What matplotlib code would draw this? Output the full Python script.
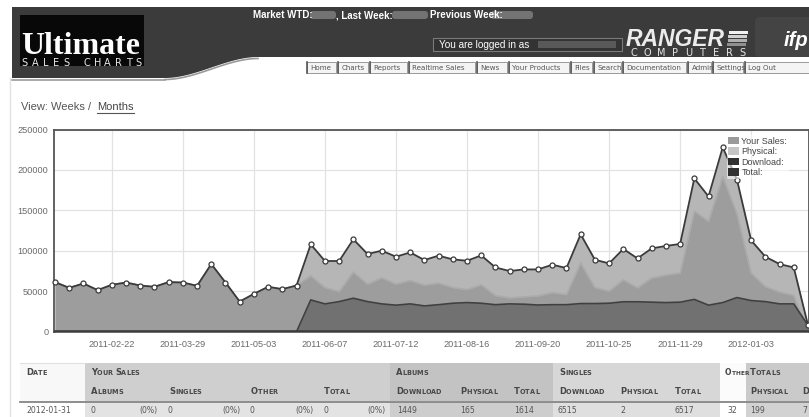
import numpy as np
import pandas as pd
import matplotlib
matplotlib.use("Agg")
import matplotlib.pyplot as plt
import matplotlib.dates as mdates
from matplotlib.patches import Rectangle, Polygon, Patch, FancyBboxPatch

# weekly sales (2011-01-25 .. 2012-01-31)
weeks = pd.date_range("2011-01-25", "2012-01-31", freq="7D")

total = [61300, 54200, 59600, 51400, 58000, 60800, 57100, 55500, 61300, 60800,
         56700, 83600, 60800, 37200, 46800, 55500, 52600, 57100, 108000, 87400,
         87400, 114200, 96000, 100200, 92700, 98000, 88600, 94000, 89400, 87700,
         94300, 79400, 75000, 77000, 77000, 82800, 78700, 120400, 89000, 84400,
         102300, 90600, 103000, 106000, 108500, 189500, 167200, 228000, 188000, 112900,
         92700, 83600, 79400, 8163]
physical = [61300, 54200, 59600, 51400, 58000, 60800, 57100, 55500, 61300, 60800,
            56700, 83600, 60800, 37200, 46800, 55500, 52600, 57100, 69100, 54600,
            49600, 73700, 58800, 66600, 58800, 63300, 57600, 60100, 54600, 52100,
            58000, 44700, 41800, 43000, 44300, 48400, 46000, 84900, 54600, 50100,
            64200, 54200, 66300, 70000, 72500, 149000, 136500, 192000, 145800, 72500,
            55800, 48900, 45000, 199]
download = [0, 0, 0, 0, 0, 0, 0, 0, 0, 0,
            0, 0, 0, 0, 0, 0, 0, 0, 39300, 34400,
            37200, 41400, 37200, 34400, 32800, 34400, 31900, 33400, 35200, 36000,
            35200, 33400, 34400, 34000, 33000, 33400, 33400, 34800, 34800, 35200,
            37000, 37000, 36500, 36000, 36500, 39900, 32800, 36000, 42200, 38500,
            37200, 34400, 34400, 7964]
your_sales = [0] * len(weeks)

tick_dates = ["2011-02-22", "2011-03-29", "2011-05-03", "2011-06-07", "2011-07-12",
              "2011-08-16", "2011-09-20", "2011-10-25", "2011-11-29", "2012-01-03"]
y_ticks = [0, 50000, 100000, 150000, 200000, 250000]

legend_labels = ["Your Sales:", "Physical:", "Download:", "Total:"]

menu_items = ["Home", "Charts", "Reports", "Realtime Sales", "News", "Your Products",
              "Files", "Search", "Documentation", "Admin", "Settings", "Log Out"]
menu_x = [307, 338, 370, 409, 477, 509, 571, 594, 623, 688, 713, 745, 812]

# table below the chart
head1 = [("Date", 26), ("Your Sales", 91), ("Albums", 396), ("Singles", 559),
         ("Other", 725), ("Totals", 750)]
head2 = [("Albums", 91), ("Singles", 169), ("Other", 251), ("Total", 324),
         ("Download", 396), ("Physical", 460), ("Total", 514), ("Download", 559),
         ("Physical", 620), ("Total", 675), ("Physical", 750), ("D", 802)]
row = [("2012-01-31", 26), ("0", 91), ("(0%)", 139), ("0", 168), ("(0%)", 222),
       ("0", 250), ("(0%)", 295), ("0", 324), ("(0%)", 367), ("1449", 397),
       ("165", 460), ("1614", 514), ("6515", 558), ("2", 620), ("6517", 675),
       ("32", 727), ("199", 750), ("7", 802)]

W, H = 809, 417
fig = plt.figure(figsize=(W / 100, H / 100), dpi=100)
fig.patch.set_facecolor("white")
renderer = fig.canvas.get_renderer()

# page layer in pixel coordinates
page = fig.add_axes([0, 0, 1, 1])
page.set_xlim(0, W)
page.set_ylim(H, 0)
page.axis("off")


def small_caps(x, y, label, big=6.0, small=4.7):
    # capital letters large, the rest as small capitals
    for word_i, word in enumerate(label.split(" ")):
        if word_i:
            x += 2.5
        for ch in word:
            size = big if ch.isupper() else small
            t = page.text(x, y, ch.upper(), family="DejaVu Sans", weight="bold",
                          fontsize=size, color="#474747", va="baseline")
            x += t.get_window_extent(renderer).width


# dark header band with the curved lower edge on the left
xs = np.linspace(258, 165, 40)
t = (258 - xs) / (258 - 165)
ys = 57 + 21 * (3 * t ** 2 - 2 * t ** 3)
band = [(12, 7), (W, 7), (W, 57)] + list(zip(xs, ys)) + [(12, 78)]
page.add_patch(Polygon(band, closed=True, fc="#3b3b3b", ec="none"))
page.plot(xs, ys + 1.5, color="#9a9a9a", lw=1.2)
page.plot([12, 165], [79.5, 79.5], color="#9a9a9a", lw=1.2)
page.add_patch(FancyBboxPatch((755, 17), 60, 40, boxstyle="round,pad=0,rounding_size=5",
                              fc="#444444", ec="none"))
page.plot([10, 10], [78, H], color="#e2e2e2", lw=1)

# logo
page.add_patch(Rectangle((20, 15), 124, 51, fc="#080808", ec="none"))
page.text(21, 53.5, "Ultimate", family="Liberation Serif", weight="bold", fontsize=23,
          color="white", va="baseline")
for i, ch in enumerate("SALES CHARTS"):
    page.text(24.5 + i * 10.4, 62.5, ch, family="DejaVu Sans", fontsize=7,
              color="#e8e8e8", ha="center", va="center")

# market line
page.text(253, 15, "Market WTD:", family="Liberation Sans", weight="bold",
          fontsize=7, color="white", va="center")
page.text(336, 15, ", Last Week:", family="Liberation Sans", weight="bold",
          fontsize=7, color="white", va="center")
page.text(430, 15, "Previous Week:", family="Liberation Sans", weight="bold",
          fontsize=7, color="white", va="center")
for bx, bw in [(310, 26), (392, 36), (491, 42)]:
    page.add_patch(FancyBboxPatch((bx, 11), bw, 8, boxstyle="round,pad=0,rounding_size=3",
                                  fc="#8c8c8c", ec="none", alpha=0.7))

# logged in box
page.add_patch(Rectangle((433, 38), 189, 13, fc="#333333", ec="#7a7a7a", lw=0.8))
page.text(439, 44.5, "You are logged in as", family="Liberation Sans", fontsize=7.2,
          color="white", va="center")
page.add_patch(Rectangle((538, 41), 78, 7, fc="#6a6a6a", ec="none", alpha=0.7))

# Ranger Computers / ifp
page.text(626, 46, "RANGER", family="Liberation Sans", weight="bold", style="italic",
          fontsize=16.5, color="#ececec", va="baseline")
for k in range(4):
    page.add_patch(Rectangle((729 - k * 0.6, 31 + k * 4), 19, 2.6,
                             fc=["#f0f0f0", "#d0d0d0", "#b0b0b0", "#909090"][k], ec="none"))
for i, ch in enumerate("COMPUTERS"):
    page.text(634 + i * 13.6, 52.5, ch, family="DejaVu Sans", fontsize=7,
              color="#e8e8e8", ha="center", va="center")
page.text(784, 46, "ifp", family="Liberation Sans", weight="bold", style="italic",
          fontsize=14.5, color="white", va="baseline")

# menu tabs
for i, item in enumerate(menu_items):
    x0, x1 = menu_x[i], menu_x[i + 1] - 2
    page.add_patch(Rectangle((x0, 62), x1 - x0, 11, fc="#f4f4f4", ec="#9a9a9a", lw=0.7))
    page.plot([x0, x0], [62, 73], color="#555555", lw=1.2)
    page.text(x0 + 3.5, 67.8, item, family="DejaVu Sans", fontsize=5.1,
              color="#555555", va="center")

# view switch
page.text(21, 107, "View: Weeks / ", family="Liberation Sans", fontsize=8, color="#555555",
          va="center")
page.text(97, 107, "Months", family="Liberation Sans", fontsize=8, color="#444444",
          va="center")
page.plot([97, 134], [112.5, 112.5], color="#555555", lw=0.8)

# table backgrounds
sections = [(20, 85, "#f8f8f8", "#ffffff"), (85, 390, "#cfcfcf", "#e3e3e3"),
            (390, 553, "#c3c3c3", "#cdcdcd"), (553, 720, "#d7d7d7", "#dfdfdf"),
            (720, 746, "#fbfbfb", "#ffffff"), (746, W, "#cacaca", "#d2d2d2")]
for x0, x1, c_head, c_row in sections:
    page.add_patch(Rectangle((x0, 363), x1 - x0, 38, fc=c_head, ec="none"))
    page.add_patch(Rectangle((x0, 402), x1 - x0, 16, fc=c_row, ec="none"))
page.plot([20, 85], [363, 363], color="#e0e0e0", lw=0.8)
page.plot([20, W], [401.5, 401.5], color="#858585", lw=1.3)
for label, x in head1:
    if label == "Other":
        small_caps(x, 375, label, big=5.5, small=4.2)
    else:
        small_caps(x, 375, label)
for label, x in head2:
    small_caps(x, 393.5, label)
for label, x in row:
    page.text(x, 410.5, label, family="DejaVu Sans", fontsize=5.6, color="#555555",
              va="center")

# chart
left, right, top, bottom = 54, W, 129.5, 331.7
ax = fig.add_axes([left / W, 1 - bottom / H, (right - left) / W, (bottom - top) / H])
ax.set_zorder(2)
ax.set_facecolor("white")

ax.fill_between(weeks, 0, total, color="#b6b6b6", lw=0, zorder=2)
ax.fill_between(weeks, 0, physical, color="#9d9d9d", lw=0, zorder=3)
ax.plot(weeks, physical, color="#ababab", lw=1.2, zorder=4)
ax.fill_between(weeks, 0, download, color="#717171", lw=0, zorder=5)
ax.plot(weeks, download, color="#404040", lw=1.2, zorder=6)
ax.plot(weeks, your_sales, color="#3c3c3c", lw=2.6, zorder=7)
ax.plot(weeks, total, color="#3a3a3a", lw=1.3, marker="o", ms=3.6,
        mfc="white", mec="#3a3a3a", mew=0.9, zorder=8, clip_on=False)

ax.set_xlim(weeks[0] - pd.Timedelta(days=0.5), weeks[-1] + pd.Timedelta(days=0.5))
ax.set_ylim(0, 250000)
ax.set_xticks(pd.to_datetime(tick_dates))
ax.xaxis.set_major_formatter(mdates.DateFormatter("%Y-%m-%d"))
ax.set_yticks(y_ticks)
ax.set_yticklabels([str(v) for v in y_ticks])
ax.tick_params(length=0, labelsize=6.6, labelcolor="#6a6a6a", pad=4)
ax.tick_params(axis="x", pad=6)
for lab in ax.get_xticklabels() + ax.get_yticklabels():
    lab.set_family("Liberation Sans")
ax.grid(True, color="#e2e2e2", lw=0.9, zorder=0)
ax.set_axisbelow(True)
for side in ["left", "top", "right", "bottom"]:
    ax.spines[side].set_color("#555555")
    ax.spines[side].set_linewidth(1.3)

handles = [Patch(fc="#9a9a9a", ec="none"), Patch(fc="#c6c6c6", ec="none"),
           Patch(fc="#303030", ec="none"), Patch(fc="#303030", ec="none")]
leg = ax.legend(handles, legend_labels, loc="upper left",
                bbox_to_anchor=((722 - left) / (right - left), 0.995),
                prop={"family": "Liberation Sans", "size": 6.5},
                handlelength=1.2, handleheight=0.9, labelspacing=0.15,
                handletextpad=0.25, borderpad=0.2, frameon=True,
                facecolor="white", edgecolor="none", framealpha=0.55)
leg.set_zorder(10)
for txt in leg.get_texts():
    txt.set_color("#444444")

fig.savefig("out.png", dpi=100)
